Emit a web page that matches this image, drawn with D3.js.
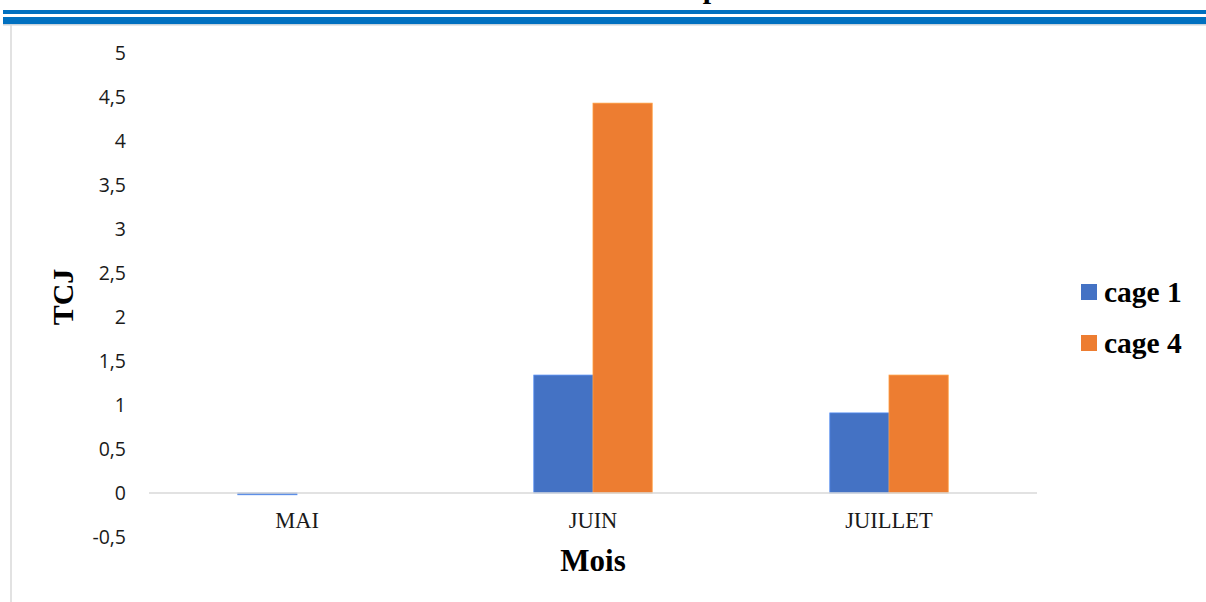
<!DOCTYPE html>
<html>
<head>
<meta charset="utf-8">
<script src="https://cdn.jsdelivr.net/npm/d3@7"></script>
<style>
  html, body { margin: 0; padding: 0; background: #fff; }
  svg { display: block; }
</style>
</head>
<body>
<div id="chart"></div>
<script>
// Monthly TCJ values for the two cages
const months = ["MAI", "JUIN", "JUILLET"];
const seriesNames = ["cage 1", "cage 4"];
const cage1 = [-0.02, 1.34, 0.91];
const cage4 = [0, 4.43, 1.34];
const yTicks = [-0.5, 0, 0.5, 1, 1.5, 2, 2.5, 3, 3.5, 4, 4.5, 5];
const colors = ["#4472C4", "#ED7D31"];

const W = 1206, H = 602;
const svg = d3.select("#chart").append("svg")
  .attr("width", W).attr("height", H);

// Page header rules
svg.append("rect").attr("x", 3).attr("y", 10).attr("width", W - 3).attr("height", 4).attr("fill", "#0070C0");
svg.append("rect").attr("x", 3).attr("y", 17).attr("width", W - 3).attr("height", 7).attr("fill", "#0070C0");
svg.append("rect").attr("x", 3).attr("y", 24).attr("width", W - 3).attr("height", 1.5).attr("fill", "#c9d3dc");

// Title (only its lower edge sits inside the frame)
svg.append("text")
  .attr("x", 711).attr("y", -2)
  .attr("text-anchor", "middle")
  .style("font-family", "'Liberation Serif', 'Times New Roman', serif")
  .style("font-weight", "bold").style("font-size", "30px")
  .attr("fill", "#000").text("p");

// Chart frame left edge
svg.append("line").attr("x1", 11).attr("x2", 11).attr("y1", 25).attr("y2", H)
  .attr("stroke", "#d9d9d9").attr("stroke-width", 1.5);

const plot = { left: 149, right: 1037 };
const x = d3.scaleBand().domain(months).range([plot.left, plot.right]).paddingInner(0).paddingOuter(0);
const y = d3.scaleLinear().domain([-0.5, 5]).range([537, 53]);

const groupW = x.bandwidth() * 0.4;
const xs = d3.scaleBand().domain(seriesNames).range([-groupW / 2, groupW / 2]);

// Y axis labels (no line, no ticks)
const fmt = v => String(v).replace(".", ",");
const yAxis = d3.axisLeft(y).tickValues(yTicks).tickFormat(fmt).tickSize(0).tickPadding(0);
const gy = svg.append("g").attr("transform", "translate(126,0)").call(yAxis);
gy.select(".domain").remove();
gy.selectAll("text")
  .style("font-family", "'Open Sans', 'Noto Sans', sans-serif")
  .style("font-size", "19.5px").attr("fill", "#1a1a1a").attr("dy", "0.35em");

// Bars
const data = [];
months.forEach((m, i) => {
  data.push({ month: m, series: seriesNames[0], value: cage1[i], color: colors[0] });
  data.push({ month: m, series: seriesNames[1], value: cage4[i], color: colors[1] });
});
svg.append("g").selectAll("rect").data(data.filter(d => d.value !== 0)).join("rect")
  .attr("x", d => x(d.month) + x.bandwidth() / 2 + xs(d.series))
  .attr("width", xs.bandwidth())
  .attr("y", d => y(Math.max(0, d.value)))
  .attr("height", d => Math.abs(y(d.value) - y(0)))
  .attr("fill", d => d.color)
  .attr("stroke", d => d3.color(d.color).brighter(0.6))
  .attr("stroke-width", 0.8);

// Zero baseline
svg.append("line")
  .attr("x1", plot.left).attr("x2", plot.right)
  .attr("y1", y(0)).attr("y2", y(0))
  .attr("stroke", "#d9d9d9").attr("stroke-width", 1.5);

// X category labels
const xAxis = d3.axisBottom(x).tickSize(0).tickPadding(0);
const gx = svg.append("g").attr("transform", "translate(0,528)").call(xAxis);
gx.select(".domain").remove();
gx.selectAll("text")
  .attr("dy", 0).attr("y", 0)
  .style("font-family", "'Liberation Serif', 'Times New Roman', serif")
  .style("font-size", "22.5px").attr("fill", "#1a1a1a");

// Axis titles
svg.append("text")
  .attr("x", x("JUIN") + x.bandwidth() / 2).attr("y", 571)
  .attr("text-anchor", "middle")
  .style("font-family", "'Liberation Serif', 'Times New Roman', serif")
  .style("font-weight", "bold").style("font-size", "31px")
  .text("Mois");

svg.append("text")
  .attr("transform", "translate(73,297) rotate(-90)")
  .attr("text-anchor", "middle")
  .style("font-family", "'Liberation Serif', 'Times New Roman', serif")
  .style("font-weight", "bold").style("font-size", "30px")
  .text("TCJ");

// Legend
const legend = svg.append("g").attr("transform", "translate(1081,284)");
seriesNames.forEach((s, i) => {
  const g = legend.append("g").attr("transform", `translate(0,${i * 51})`);
  g.append("rect").attr("width", 16).attr("height", 16).attr("fill", colors[i]);
  g.append("text").attr("x", 23).attr("y", 18)
    .style("font-family", "'Liberation Serif', 'Times New Roman', serif")
    .style("font-weight", "bold").style("font-size", "29.5px")
    .text(s);
});
</script>
</body>
</html>
